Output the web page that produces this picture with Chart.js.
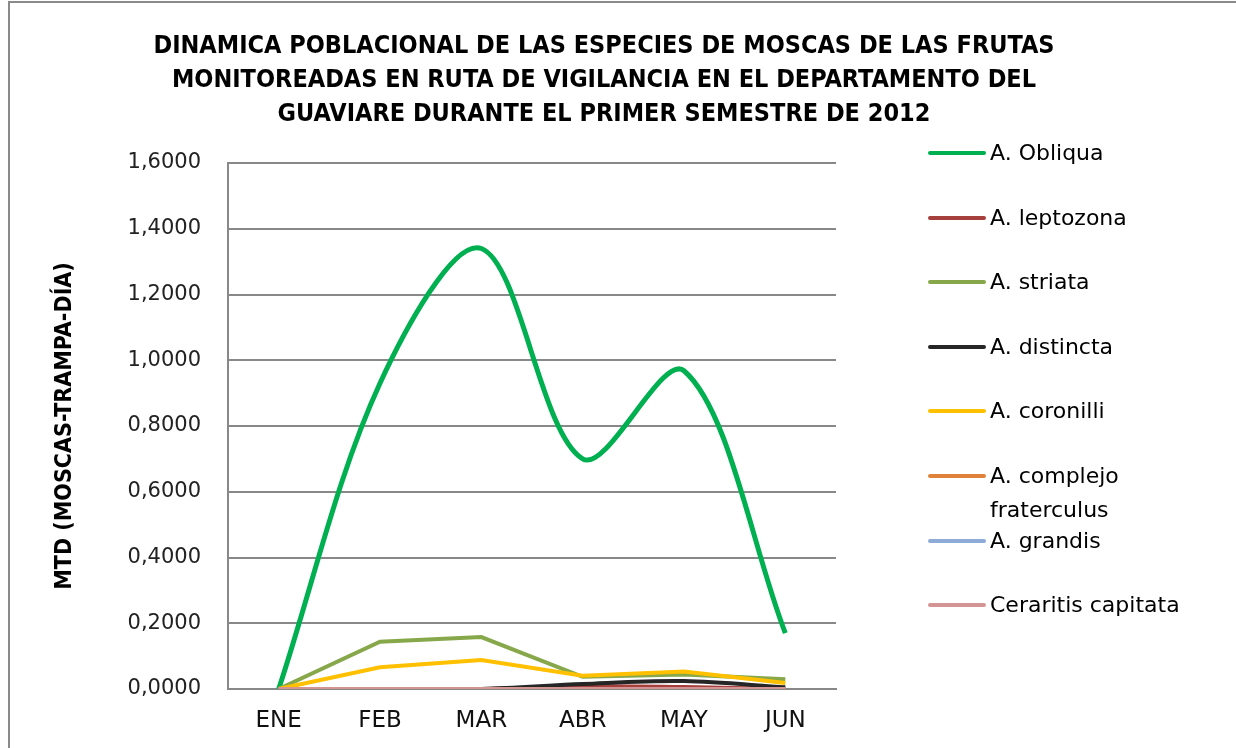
<!DOCTYPE html>
<html>
<head>
<meta charset="utf-8">
<script src="https://cdn.jsdelivr.net/npm/chart.js@4"></script>
<style>
  body { margin: 0; background: #fff; }
  #wrap { position: relative; width: 1236px; height: 748px; overflow: hidden; }
  #frame { position: absolute; left: 8px; top: 1px; width: 1240px; height: 760px; border: 2px solid #8a8a8a; }
  #myChart { position: absolute; left: 0; top: 0; }
  #title {
    position: absolute; left: 0; top: 28px; width: 1208px; text-align: center;
    font: bold 25px "DejaVu Sans Condensed", "DejaVu Sans", sans-serif; font-stretch: condensed;
    line-height: 34px; color: #000;
  }
  #legend { position: absolute; left: 928px; top: 0; }
  .item { position: absolute; left: 0; display: flex; align-items: flex-start; }
  .swatch { width: 58px; height: 4px; border-radius: 2px; margin-top: 15px; }
  .label { margin-left: 4px; width: 220px; font: 22px "DejaVu Sans", sans-serif; line-height: 34px; color: #000; }
</style>
</head>
<body>
<div id="wrap">
  <div id="frame"></div>
  <canvas id="myChart" width="1236" height="748"></canvas>
  <div id="title">DINAMICA POBLACIONAL DE LAS ESPECIES DE MOSCAS DE LAS FRUTAS<br>MONITOREADAS EN RUTA DE VIGILANCIA EN EL DEPARTAMENTO DEL<br>GUAVIARE DURANTE EL PRIMER SEMESTRE DE 2012</div>
  <div id="legend"></div>
</div>
<script>
const months = ['ENE', 'FEB', 'MAR', 'ABR', 'MAY', 'JUN'];
const species = ['A. Obliqua', 'A. leptozona', 'A. striata', 'A. distincta', 'A. coronilli', 'A. complejo fraterculus', 'A. grandis', 'Ceraritis capitata'];

const obliqua = [0, 0.93, 1.34, 0.70, 0.968, 0.17];
const leptozona = [0, 0, 0, 0.008, 0.006, 0];
const striata = [0, 0.144, 0.158, 0.037, 0.044, 0.030];
const distincta = [0, 0, 0, 0.015, 0.024, 0.005];
const coronilli = [0, 0.066, 0.088, 0.040, 0.053, 0.018];
const fraterculus = [0, 0, 0, 0, 0, 0];
const grandis = [0, 0, 0, 0, 0, 0];
const ceratitis = [0, 0, 0, 0, 0, 0];

const seriesValues = [obliqua, leptozona, striata, distincta, coronilli, fraterculus, grandis, ceratitis];
const colors = ['#00b050', '#a5403c', '#86a84a', '#262626', '#ffc000', '#e0823a', '#8eaad6', '#d49494'];
const smooth = [0.33, 0.33, 0, 0.33, 0, 0, 0, 0];

const datasets = seriesValues.map((vals, i) => ({
    label: species[i],
    data: vals,
    borderColor: colors[i],
    backgroundColor: colors[i],
    borderWidth: i === 0 ? 5 : 4,
    pointRadius: 0,
    tension: smooth[i],
    // excel draws later series on top
    order: seriesValues.length - i
}));

const fmt = v => v.toFixed(4).replace('.', ',');

const chart = new Chart(document.getElementById('myChart'), {
    type: 'line',
    data: { labels: months, datasets: datasets },
    options: {
        responsive: false,
        animation: false,
        layout: { padding: { left: 47, top: 163, right: 400, bottom: 16 } },
        plugins: {
            legend: { display: false },
            tooltip: { enabled: false }
        },
        scales: {
            x: {
                offset: true,
                afterFit: s => { s.height = 43; },
                grid: { display: false, drawTicks: false },
                border: { display: true, color: '#888888', width: 2 },
                ticks: { color: '#111', padding: 18, font: { family: 'DejaVu Sans', size: 23 } }
            },
            y: {
                min: 0,
                max: 1.6,
                afterFit: s => { s.width = 181; },
                grid: { color: '#888888', lineWidth: 2, drawTicks: false },
                border: { display: true, color: '#888888', width: 2 },
                ticks: {
                    stepSize: 0.2,
                    color: '#222',
                    padding: 27,
                    font: { family: 'DejaVu Sans', size: 21 },
                    callback: v => fmt(v)
                },
                title: {
                    display: true,
                    text: 'MTD (MOSCAS-TRAMPA-DÍA)',
                    color: '#000',
                    font: { family: 'DejaVu Sans Condensed', size: 23, weight: 'bold' }
                }
            }
        }
    }
});

// legend built from the chart's datasets
const legendBox = document.getElementById('legend');
chart.data.datasets.forEach((ds, i) => {
    const item = document.createElement('div');
    item.className = 'item';
    item.style.top = (136 + i * 64.6) + 'px';
    item.innerHTML = `<div class="swatch" style="background:${ds.borderColor}"></div><div class="label">${ds.label}</div>`;
    legendBox.appendChild(item);
});
</script>
</body>
</html>
